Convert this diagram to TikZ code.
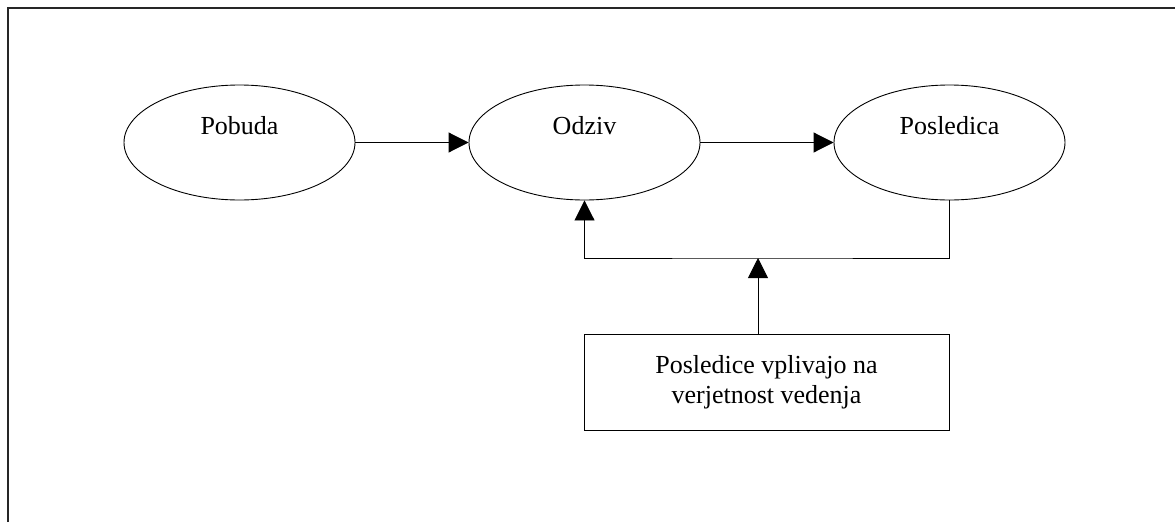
\documentclass[tikz,border=0pt]{standalone}
\usepackage{fontspec}
\setmainfont{Liberation Serif}
\usetikzlibrary{shapes.geometric,arrows.meta}
\begin{document}
\begin{tikzpicture}[x=1pt,y=1pt,
  every node/.style={font=\fontsize{26}{30}\selectfont},
  ell/.style={draw,line width=0.9pt,ellipse,minimum width=231pt,minimum height=115pt,inner sep=0pt},
  lbl/.style={yshift=17pt},
  note/.style={draw,line width=0.9pt,rectangle,minimum width=365pt,minimum height=96pt,align=center,inner sep=0pt},
  arr/.style={line width=0.9pt,-{Triangle[length=20pt,width=20pt]}},
  frame/.style={line width=1.3pt,draw=black!85}]
  \useasboundingbox (0,0) rectangle (1175,-522);
  % outer frame (left and top edges)
  \draw[frame] (8,-522) -- (8,-8) -- (1175,-8);

  \node[ell,label={[lbl,name=pobt]center:Pobuda}] (pob) at (239.5,-142.5) {};
  \node[ell,label={[lbl,name=odzt]center:Odziv}] (odz) at (584.5,-142.5) {};
  \node[ell,label={[lbl,name=post]center:Posledica}] (pos) at (949.5,-142.5) {};
  \node[note] (box) at (766.5,-382) {Posledice vplivajo na\\verjetnost vedenja};

  \coordinate (join) at (758,-258);

  \draw[arr] (pob.east) -- (odz.west);
  \draw[arr] (odz.east) -- (pos.west);
  \draw[arr] (pos.south) |- (join) -| (odz.south);
  \draw[arr] (join |- box.north) -- (join);
\end{tikzpicture}
\end{document}
